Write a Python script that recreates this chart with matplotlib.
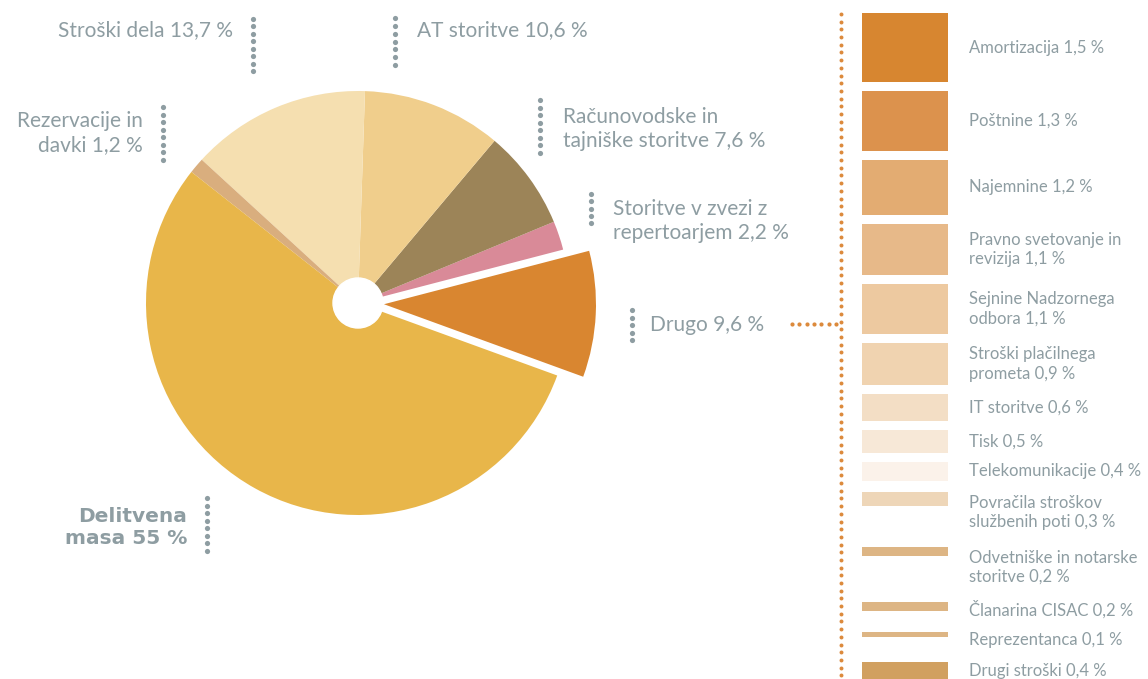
import numpy as np
import matplotlib
matplotlib.use("Agg")
import matplotlib.pyplot as plt
from matplotlib.patches import Circle

# pie slices (counter-clockwise from the exploded "Drugo")
pie_labels = ["Drugo 9,6 %", "Storitve v zvezi z\nrepertoarjem 2,2 %",
              "Računovodske in\ntajniške storitve 7,6 %", "AT storitve 10,6 %",
              "Stroški dela 13,7 %", "Rezervacije in\ndavki 1,2 %", "Delitvena\nmasa 55 %"]
pie_values = [9.6, 2.2, 7.6, 10.6, 13.7, 1.2, 55.0]
pie_colors = ["#D98630", "#D98A98", "#9C8458", "#F0CE8C", "#F5DFB0", "#D9AE7E", "#E8B64A"]

# breakdown of "Drugo"
other_labels = ["Amortizacija 1,5 %", "Poštnine 1,3 %", "Najemnine 1,2 %",
                "Pravno svetovanje in\nrevizija 1,1 %", "Sejnine Nadzornega\nodbora 1,1 %",
                "Stroški plačilnega\nprometa 0,9 %", "IT storitve 0,6 %", "Tisk 0,5 %",
                "Telekomunikacije 0,4 %", "Povračila stroškov\nslužbenih poti 0,3 %",
                "Odvetniške in notarske\nstoritve 0,2 %", "Članarina CISAC 0,2 %",
                "Reprezentanca 0,1 %", "Drugi stroški 0,4 %"]
other_values = [1.5, 1.3, 1.2, 1.1, 1.1, 0.9, 0.6, 0.5, 0.4, 0.3, 0.2, 0.2, 0.1, 0.4]
other_colors = ["#D78630", "#DC924D", "#E3AC72", "#E7B989", "#EDC9A0", "#F0D3B0", "#F3DEC5",
                "#F7E8D7", "#FBF2EA", "#EED6B8", "#DDB584", "#DDB584", "#DDB584", "#D1A060"]

W, H = 1148, 679
GREY = "#8E9DA2"
ORANGE = "#DC8A3C"
plt.rcParams["font.family"] = ["Lato", "Roboto", "DejaVu Sans"]

fig = plt.figure(figsize=(W / 100, H / 100), dpi=100)
ax = fig.add_axes([0, 0, 1, 1])

cx, cy, r = 358, 303, 212
explode = [26] + [0] * (len(pie_values) - 1)   # offset in pixels
ax.pie(pie_values, colors=pie_colors, explode=explode, center=(cx, cy), radius=r,
       startangle=20, counterclock=False, wedgeprops=dict(linewidth=0))
ax.add_patch(Circle((cx, cy), 25, color="white", zorder=5))

ax.set_xlim(0, W)
ax.set_ylim(H, 0)
ax.set_aspect("auto")
ax.axis("off")


def dots(x0, y0, x1, y1, color, step, size):
    n = int(round(np.hypot(x1 - x0, y1 - y0) / step)) + 1
    ax.scatter(np.linspace(x0, x1, n), np.linspace(y0, y1, n), s=size, color=color,
               linewidths=0, zorder=6)


# pie labels: (text x, text y, align, dots x, dots y0, dots y1)
label_pos = {
    "Stroški dela 13,7 %": (233, 30, "right", 253, 19, 71),
    "AT storitve 10,6 %": (417, 30, "left", 395, 18, 65),
    "Računovodske in\ntajniške storitve 7,6 %": (563, 129, "left", 540, 100, 153),
    "Storitve v zvezi z\nrepertoarjem 2,2 %": (613, 221, "left", 591, 194, 223),
    "Drugo 9,6 %": (650, 325, "left", 632, 310, 340),
    "Rezervacije in\ndavki 1,2 %": (143, 133, "right", 163, 107, 160),
    "Delitvena\nmasa 55 %": (187, 527, "right", 207, 498, 551),
}
for lab in pie_labels:
    tx, ty, ha, dx, dy0, dy1 = label_pos[lab]
    if lab.startswith("Delitvena"):
        ax.text(tx, ty, lab, ha=ha, va="center", fontsize=14.5, color=GREY,
                fontweight="bold", family="DejaVu Sans", linespacing=1.2)
    else:
        ax.text(tx, ty, lab, ha=ha, va="center", fontsize=15, color=GREY,
                linespacing=1.25)
    dots(dx, dy0, dx, dy1, GREY, 7.5, 14)

# connector to breakdown
dots(841, 14, 841, H + 4, ORANGE, 7.7, 8)
dots(792, 324, 836, 324, ORANGE, 7.4, 9)

# breakdown bars, height proportional to the value
px_per_pct = 46
heights = [v * px_per_pct for v in other_values]
nlines = [lab.count("\n") + 1 for lab in other_labels]
tops = []
y = 13
for h, n in zip(heights, nlines):
    tops.append(y)
    if n == 1:
        y += max(h + 9, 30)
    else:
        y += max(h + 9, 50 if h > 30 else 55)

ax.bar(905, heights, width=86, bottom=tops, color=other_colors, linewidth=0, align="center")
for lab, t, h, n in zip(other_labels, tops, heights, nlines):
    yc = max(t + h / 2, t + n * 12.5 - 5)
    ax.text(969, yc, lab, ha="left", va="center", fontsize=12, color=GREY,
            linespacing=1.25)

fig.savefig("out.png", dpi=100)
